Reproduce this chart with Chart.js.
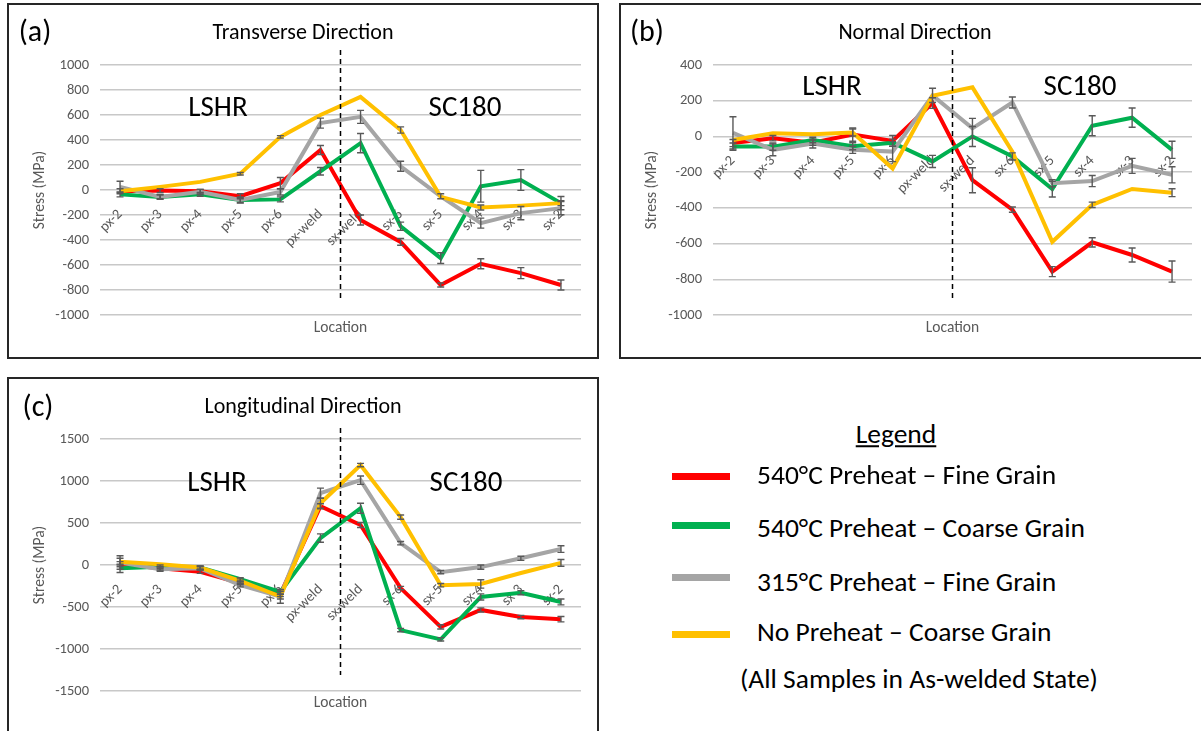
<!DOCTYPE html>
<html>
<head>
<meta charset="utf-8">
<script src="https://cdn.jsdelivr.net/npm/chart.js@4"></script>
<style>
  body { margin: 0; background: #fff; }
  #page { position: relative; width: 1201px; height: 731px; overflow: hidden; font-family: Calibri, Carlito, Lato, sans-serif; color: #000; }
  .frame { position: absolute; border: 2px solid #262626; box-sizing: border-box; }
  canvas { position: absolute; }
  .txt { position: absolute; transform: translate(-50%, -50%); white-space: nowrap; line-height: 1; }
  .letter { font-size: 30px; }
  .ttl { font-size: 22px; }
  .zone { font-size: 29px; }
  .leg { position: absolute; white-space: nowrap; line-height: 1; font-size: 27.5px; transform: translateY(-50%); }
  .swatch { position: absolute; left: 672px; width: 58px; height: 7px; }
</style>
</head>
<body>
<div id="page">
  <div class="frame" style="left:7px; top:3px; width:592px; height:356px;"></div>
  <div class="frame" style="left:619px; top:3px; width:600px; height:356px;"></div>
  <div class="frame" style="left:7px; top:377px; width:592px; height:380px;"></div>

  <canvas id="chartA" width="589" height="352" style="left:8px; top:5px;"></canvas>
  <canvas id="chartB" width="581" height="352" style="left:620px; top:5px;"></canvas>
  <canvas id="chartC" width="589" height="352" style="left:8px; top:379px;"></canvas>

  <div class="txt letter" style="left:35px; top:31px;">(a)</div>
  <div class="txt ttl" style="left:303px; top:32px;">Transverse Direction</div>
  <div class="txt zone" style="left:218px; top:106px;">LSHR</div>
  <div class="txt zone" style="left:465px; top:106px;">SC180</div>

  <div class="txt letter" style="left:647px; top:31px;">(b)</div>
  <div class="txt ttl" style="left:915px; top:32px;">Normal Direction</div>
  <div class="txt zone" style="left:832px; top:85px;">LSHR</div>
  <div class="txt zone" style="left:1080px; top:85px;">SC180</div>

  <div class="txt letter" style="left:38px; top:406px;">(c)</div>
  <div class="txt ttl" style="left:303px; top:406px;">Longitudinal Direction</div>
  <div class="txt zone" style="left:217px; top:481px;">LSHR</div>
  <div class="txt zone" style="left:466px; top:481px;">SC180</div>

  <div class="txt" style="left:896px; top:434px; font-size:27.5px; text-decoration:underline;">Legend</div>
  <div class="swatch" style="top:473px; background:#ff0000;"></div>
  <div class="swatch" style="top:522px; background:#00b050;"></div>
  <div class="swatch" style="top:574px; background:#a5a5a5;"></div>
  <div class="swatch" style="top:631px; background:#ffc000;"></div>
  <div class="leg" style="left:757px; top:475px;">540°C Preheat – Fine Grain</div>
  <div class="leg" style="left:757px; top:528px;">540°C Preheat – Coarse Grain</div>
  <div class="leg" style="left:757px; top:582px;">315°C Preheat – Fine Grain</div>
  <div class="leg" style="left:757px; top:632px;">No Preheat – Coarse Grain</div>
  <div class="leg" style="left:740px; top:679px;">(All Samples in As-welded State)</div>
</div>

<script>
// measurement locations across the weld
const locations = ['px-2', 'px-3', 'px-4', 'px-5', 'px-6', 'px-weld', 'sx-weld', 'sx-6', 'sx-5', 'sx-4', 'sx-3', 'sx-2'];

// Transverse direction stress (MPa)
const transFine540   = [-10, -5, -10, -50, 55, 320, -240, -415, -760, -590, -665, -760];
const transCoarse540 = [-35, -55, -35, -80, -75, 150, 375, -290, -545, 30, 80, -105];
const transFine315   = [25, -55, -15, -80, -15, 535, 585, 190, -50, -265, -185, -145];
const transNoPre     = [-10, 25, 65, 130, 425, 600, 745, 480, -55, -140, -125, -105];
const transFine540Err   = [20, 15, 15, 20, 45, 36, 40, 27, 16, 40, 44, 40];
const transCoarse540Err = [20, 15, 15, 20, 20, 30, 77, 33, 43, 127, 83, 53];
const transFine315Err   = [45, 20, 20, 25, 25, 40, 52, 40, 20, 40, 53, 53];
const transNoPreErr     = [0, 0, 0, 10, 10, 0, 0, 25, 0, 20, 0, 20];

// Normal direction stress (MPa)
const normFine540   = [-37, -10, -35, 10, -25, 187, -245, -410, -757, -593, -664, -757];
const normCoarse540 = [-57, -57, -20, -55, -35, -140, 0, -112, -295, 60, 105, -75];
const normFine315   = [20, -75, -40, -75, -85, 230, 45, 190, -262, -250, -165, -215];
const normNoPre     = [-20, 18, 12, 22, -180, 228, 275, -85, -590, -383, -294, -315];
const normFine540Err   = [20, 15, 15, 37, 30, 30, 70, 15, 28, 26, 39, 59];
const normCoarse540Err = [20, 20, 15, 20, 20, 34, 56, 20, 44, 56, 54, 48];
const normFine315Err   = [90, 33, 25, 20, 56, 40, 56, 31, 20, 31, 42, 45];
const normNoPreErr     = [0, 0, 0, 20, 0, 0, 0, 0, 0, 15, 0, 22];

// Longitudinal direction stress (MPa)
const longFine540   = [10, -40, -80, -215, -345, 700, 476, -275, -737, -535, -620, -645];
const longCoarse540 = [-40, -20, -30, -170, -320, 320, 676, -775, -885, -380, -330, -440];
const longFine315   = [30, -50, -40, -240, -375, 855, 1010, 260, -85, -25, 80, 190];
const longNoPre     = [40, 10, -30, -190, -375, 735, 1190, 570, -240, -225, -95, 25];
const longFine540Err   = [30, 20, 20, 20, 30, 30, 30, 20, 25, 25, 20, 32];
const longCoarse540Err = [50, 20, 20, 20, 30, 50, 60, 20, 20, 36, 25, 35];
const longFine315Err   = [80, 25, 20, 20, 80, 60, 50, 20, 20, 25, 25, 40];
const longNoPreErr     = [40, 0, 20, 25, 30, 60, 20, 25, 20, 50, 0, 40];

const seriesColors = ['#ff0000', '#00b050', '#a5a5a5', '#ffc000'];
const fontFamily = 'Calibri, Carlito, Lato, sans-serif';
const tickFont = { family: fontFamily, size: 14.5 };
const axisTitleFont = { family: fontFamily, size: 15.5 };
const tickColor = '#595959';

// I-shaped error bars on every point that has one
const errorBars = {
  id: 'errorBars',
  afterDatasetsDraw(chart) {
    const ctx = chart.ctx;
    const yScale = chart.scales.y;
    ctx.save();
    ctx.strokeStyle = '#595959';
    ctx.lineWidth = 1.4;
    chart.data.datasets.forEach((ds, di) => {
      const meta = chart.getDatasetMeta(di);
      meta.data.forEach((pt, i) => {
        const e = ds.errors[i];
        if (!e) return;
        const top = yScale.getPixelForValue(ds.data[i] + e);
        const bot = yScale.getPixelForValue(ds.data[i] - e);
        ctx.beginPath();
        ctx.moveTo(pt.x, top); ctx.lineTo(pt.x, bot);
        ctx.moveTo(pt.x - 3.5, top); ctx.lineTo(pt.x + 3.5, top);
        ctx.moveTo(pt.x - 3.5, bot); ctx.lineTo(pt.x + 3.5, bot);
        ctx.stroke();
      });
    });
    ctx.restore();
  }
};

// dashed boundary between the LSHR and SC180 sides of the weld
const weldLine = {
  id: 'weldLine',
  afterDatasetsDraw(chart, args, opts) {
    const ctx = chart.ctx;
    const x = chart.scales.x.getPixelForValue(5.5);
    ctx.save();
    ctx.strokeStyle = '#000';
    ctx.lineWidth = 1.5;
    ctx.setLineDash([5, 4]);
    ctx.beginPath();
    ctx.moveTo(x, chart.scales.y.getPixelForValue(opts.from));
    ctx.lineTo(x, chart.scales.y.getPixelForValue(opts.to));
    ctx.stroke();
    ctx.restore();
  }
};

function makeDataset(values, errors, idx) {
  return {
    data: values,
    errors: errors,
    borderColor: seriesColors[idx],
    backgroundColor: seriesColors[idx],
    borderWidth: 4,
    pointRadius: 0,
    tension: 0,
    order: 4 - idx
  };
}

function buildPanel(id, series, errs, yMin, yMax, step, divider, lay) {
  new Chart(document.getElementById(id), {
    type: 'line',
    data: {
      labels: locations,
      datasets: series.map((s, i) => makeDataset(s, errs[i], i))
    },
    options: {
      responsive: false,
      animation: false,
      devicePixelRatio: 1,
      events: [],
      layout: { padding: { top: 60, right: lay.right, left: 0, bottom: 0 } },
      plugins: {
        legend: { display: false },
        tooltip: { enabled: false },
        weldLine: divider
      },
      scales: {
        x: {
          type: 'category',
          position: { y: 0 },
          offset: true,
          grid: { display: false },
          border: { display: false },
          ticks: { color: tickColor, font: tickFont, minRotation: 45, maxRotation: 45, autoSkip: false, padding: 8 },
          afterFit: s => { s.height = 0; }
        },
        x2: {
          type: 'category',
          labels: locations,
          position: 'bottom',
          grid: { display: false },
          border: { display: false },
          ticks: { display: false },
          title: { display: true, text: 'Location', color: tickColor, font: axisTitleFont, padding: { top: 0, bottom: lay.titleBottom } },
          afterFit: s => { s.height = lay.xHeight; }
        },
        y: {
          min: yMin,
          max: yMax,
          grid: { color: '#c8c8c8', lineWidth: 1.5, drawTicks: false },
          border: { display: false },
          ticks: { stepSize: step, color: tickColor, font: tickFont, padding: 11, callback: v => String(v) },
          title: { display: true, text: 'Stress (MPa)', color: tickColor, font: axisTitleFont, padding: { top: 23, bottom: 0 } },
          afterFit: s => { s.width = lay.yWidth; }
        }
      }
    },
    plugins: [errorBars, weldLine]
  });
}

buildPanel('chartA',
  [transFine540, transCoarse540, transFine315, transNoPre],
  [transFine540Err, transCoarse540Err, transFine315Err, transNoPreErr],
  -1000, 1000, 200, { from: 1120, to: -880 },
  { right: 16, yWidth: 92, xHeight: 42, titleBottom: 20 });

buildPanel('chartB',
  [normFine540, normCoarse540, normFine315, normNoPre],
  [normFine540Err, normCoarse540Err, normFine315Err, normNoPreErr],
  -1000, 400, 200, { from: 484, to: -916 },
  { right: 9, yWidth: 93, xHeight: 42, titleBottom: 20 });

buildPanel('chartC',
  [longFine540, longCoarse540, longFine315, longNoPre],
  [longFine540Err, longCoarse540Err, longFine315Err, longNoPreErr],
  -1500, 1500, 500, { from: 1630, to: -1310 },
  { right: 16, yWidth: 92, xHeight: 40, titleBottom: 19 });
</script>
</body>
</html>
